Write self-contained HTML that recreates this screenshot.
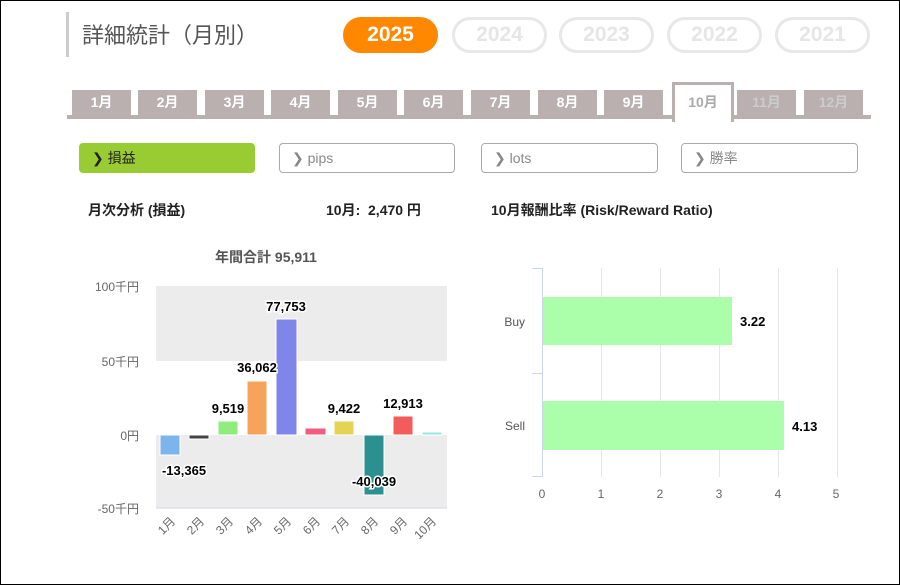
<!DOCTYPE html>
<html><head><meta charset="utf-8"><style>
body{margin:0;width:900px;height:585px;overflow:hidden;background:#fff;font-family:"Liberation Sans","Noto Sans CJK JP",sans-serif;}
.frame{position:absolute;left:0;top:0;width:898px;height:583px;border:1px solid #000;}
.a{position:absolute;}
.pill{position:absolute;top:17px;width:89px;height:30px;border:3px solid #e8e8e8;border-radius:18px;color:#e6e6e6;font-weight:bold;font-size:21px;text-align:center;line-height:30px;}
.tab{position:absolute;top:90px;width:59px;height:25px;background:#b9b0af;color:#fff;font-size:14px;text-align:center;line-height:25px;font-weight:bold;}
.btn{position:absolute;top:143px;height:28px;border:1px solid #aaa;border-radius:4px;font-size:14px;line-height:28px;color:#888;box-sizing:border-box;height:30px;padding-left:12px;}
.h{position:absolute;top:200px;font-size:14px;font-weight:bold;color:#222;}
</style></head><body>
<div class="frame"></div>
<div class="a" style="left:66px;top:12px;width:3px;height:45px;background:#ccc"></div>
<div class="a" style="left:82px;top:18px;font-size:22px;color:#555">詳細統計（月別）</div>
<div class="pill" style="left:343px;background:#f80;border-color:#f80;color:#fff">2025</div>
<div class="pill" style="left:452px">2024</div>
<div class="pill" style="left:559px">2023</div>
<div class="pill" style="left:667px">2022</div>
<div class="pill" style="left:775px">2021</div>
<div class="a" style="left:67px;top:115px;width:804px;height:4px;background:#b9b0af"></div>
<div class="tab" style="left:72px">1月</div>
<div class="tab" style="left:138px">2月</div>
<div class="tab" style="left:205px">3月</div>
<div class="tab" style="left:271px">4月</div>
<div class="tab" style="left:338px">5月</div>
<div class="tab" style="left:404px">6月</div>
<div class="tab" style="left:471px">7月</div>
<div class="tab" style="left:538px">8月</div>
<div class="tab" style="left:604px">9月</div>
<div class="a" style="left:672px;top:82px;width:56px;height:37px;background:#fff;border:3px solid #b9b0af;border-bottom:none;color:#aaa;font-size:14px;text-align:center;line-height:34px;font-weight:bold">10月</div>
<div class="tab" style="left:737px;color:#ccc">11月</div>
<div class="tab" style="left:804px;color:#ccc">12月</div>
<div class="btn" style="left:79px;width:176px;background:#9c3;border-color:#9c3;color:#222">❯ 損益</div>
<div class="btn" style="left:279px;width:176px">❯ pips</div>
<div class="btn" style="left:481px;width:177px">❯ lots</div>
<div class="btn" style="left:681px;width:177px">❯ 勝率</div>
<div class="h" style="left:88px">月次分析 (損益)</div>
<div class="h" style="left:326px">10月:&nbsp; 2,470 円</div>
<div class="h" style="left:491px">10月報酬比率 (Risk/Reward Ratio)</div>
<svg class="a" style="left:0;top:0" width="900" height="585" font-family="Liberation Sans, Noto Sans CJK JP, sans-serif">
<text x="266" y="262" text-anchor="middle" font-size="14" font-weight="bold" fill="#555">年間合計 95,911</text>
<rect x="156" y="286" width="291" height="75" fill="#ececec"/>
<rect x="156" y="435" width="291" height="73" fill="#ececec"/>
<line x1="156" y1="508" x2="447" y2="508" stroke="#ccd6eb"/>
<g font-size="12" fill="#666" text-anchor="end">
<text x="139" y="291">100千円</text><text x="139" y="366">50千円</text><text x="139" y="440">0円</text><text x="139" y="513">-50千円</text></g>
<g stroke="#fff" stroke-width="1">
<rect x="160" y="435" width="20" height="20" fill="#7cb5ec"/>
<rect x="189" y="435" width="20" height="4" fill="#434348"/>
<rect x="218" y="421" width="20" height="14" fill="#90ed7d"/>
<rect x="247" y="381" width="20" height="54" fill="#f7a35c"/>
<rect x="276" y="319" width="21" height="116" fill="#8085e9"/>
<rect x="305" y="428" width="21" height="7" fill="#f15c80"/>
<rect x="334" y="421" width="20" height="14" fill="#e4d354"/>
<rect x="364" y="435" width="20" height="60" fill="#2b908f"/>
<rect x="393" y="416" width="20" height="19" fill="#f45b5b"/>
<rect x="422" y="432" width="20" height="3" fill="#91e8e1"/>
</g>
<g font-size="13" font-weight="bold" fill="#000" text-anchor="middle" stroke="#fff" stroke-width="3" paint-order="stroke">
<text x="184" y="475">-13,365</text>
<text x="228" y="413">9,519</text>
<text x="257" y="372">36,062</text>
<text x="286" y="311">77,753</text>
<text x="344" y="413">9,422</text>
<text x="374" y="486">-40,039</text>
<text x="403" y="408">12,913</text>
</g>
<g font-size="12" fill="#666" text-anchor="end">
<text transform="translate(176,522) rotate(-45)">1月</text>
<text transform="translate(205,522) rotate(-45)">2月</text>
<text transform="translate(234,522) rotate(-45)">3月</text>
<text transform="translate(263,522) rotate(-45)">4月</text>
<text transform="translate(292,522) rotate(-45)">5月</text>
<text transform="translate(321,522) rotate(-45)">6月</text>
<text transform="translate(350,522) rotate(-45)">7月</text>
<text transform="translate(379,522) rotate(-45)">8月</text>
<text transform="translate(408,522) rotate(-45)">9月</text>
<text transform="translate(437,522) rotate(-45)">10月</text>
</g>
<g stroke="#e6e6e6"><line x1="601.5" y1="268" x2="601.5" y2="477"/><line x1="660.5" y1="268" x2="660.5" y2="477"/><line x1="719.5" y1="268" x2="719.5" y2="477"/><line x1="778.5" y1="268" x2="778.5" y2="477"/><line x1="837.5" y1="268" x2="837.5" y2="477"/></g>
<g stroke="#ccd6eb"><line x1="542.5" y1="268" x2="542.5" y2="477"/><line x1="532" y1="268.5" x2="542" y2="268.5"/><line x1="532" y1="373.5" x2="542" y2="373.5"/><line x1="532" y1="476.5" x2="542" y2="476.5"/></g>
<rect x="543" y="297" width="189" height="48" fill="#abffab"/>
<rect x="543" y="401" width="241" height="49" fill="#abffab"/>
<g font-size="13" font-weight="bold" fill="#000"><text x="740" y="326">3.22</text><text x="792" y="431">4.13</text></g>
<g font-size="12" fill="#555" text-anchor="end"><text x="525" y="326">Buy</text><text x="525" y="430">Sell</text></g>
<g font-size="12" fill="#666" text-anchor="middle"><text x="542" y="498">0</text><text x="601" y="498">1</text><text x="660" y="498">2</text><text x="719" y="498">3</text><text x="778" y="498">4</text><text x="836" y="498">5</text></g>
</svg>
</body></html>
